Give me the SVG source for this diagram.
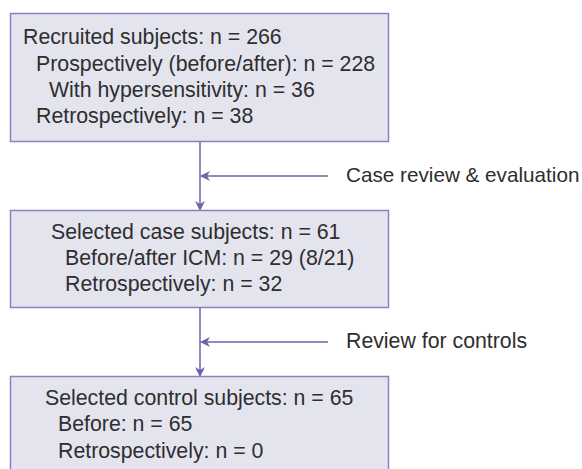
<svg xmlns="http://www.w3.org/2000/svg" width="582" height="469" viewBox="0 0 582 469">
<defs>
<style>
.box{fill:#e4e4ee;stroke:#8882c0;stroke-width:1.5}
.t{font-family:"Liberation Sans",Arial,sans-serif;font-size:21.3px;fill:#2e2e2e}
.c{stroke:#6a64aa;stroke-width:1.5;fill:none}
</style>
<marker id="ah" markerWidth="10" markerHeight="10" refX="9" refY="5" orient="auto" markerUnits="userSpaceOnUse">
<path d="M0,0 L10,5 L0,10 L3,5 Z" fill="#6a64aa"/>
</marker>
</defs>
<rect width="582" height="469" fill="#ffffff"/>
<g id="connectors">
<line class="c" x1="200" y1="142" x2="200" y2="210" marker-end="url(#ah)"/>
<line class="c" x1="328" y1="176" x2="201" y2="176" marker-end="url(#ah)"/>
<line class="c" x1="200" y1="308" x2="200" y2="376" marker-end="url(#ah)"/>
<line class="c" x1="328" y1="342" x2="201" y2="342" marker-end="url(#ah)"/>
</g>
<g id="recruited">
<rect class="box" x="10.5" y="13.5" width="378" height="128"/>
<text class="t" x="23" y="44">Recruited subjects: n = 266</text>
<text class="t" x="36" y="71">Prospectively (before/after): n = 228</text>
<text class="t" x="49" y="97">With hypersensitivity: n = 36</text>
<text class="t" x="36" y="123">Retrospectively: n = 38</text>
</g>
<g id="case-review">
<text class="t" x="346" y="182" style="font-size:20.7px">Case review &amp; evaluation</text>
</g>
<g id="selected-case">
<rect class="box" x="10.5" y="210.5" width="378" height="97"/>
<text class="t" x="51" y="239">Selected case subjects: n = 61</text>
<text class="t" x="65" y="265">Before/after ICM: n = 29 (8/21)</text>
<text class="t" x="65" y="291">Retrospectively: n = 32</text>
</g>
<g id="review-controls">
<text class="t" x="346" y="348">Review for controls</text>
</g>
<g id="selected-control">
<rect class="box" x="10.5" y="376.5" width="378" height="100"/>
<text class="t" x="45" y="405">Selected control subjects: n = 65</text>
<text class="t" x="58" y="431">Before: n = 65</text>
<text class="t" x="58" y="458">Retrospectively: n = 0</text>
</g>
</svg>
